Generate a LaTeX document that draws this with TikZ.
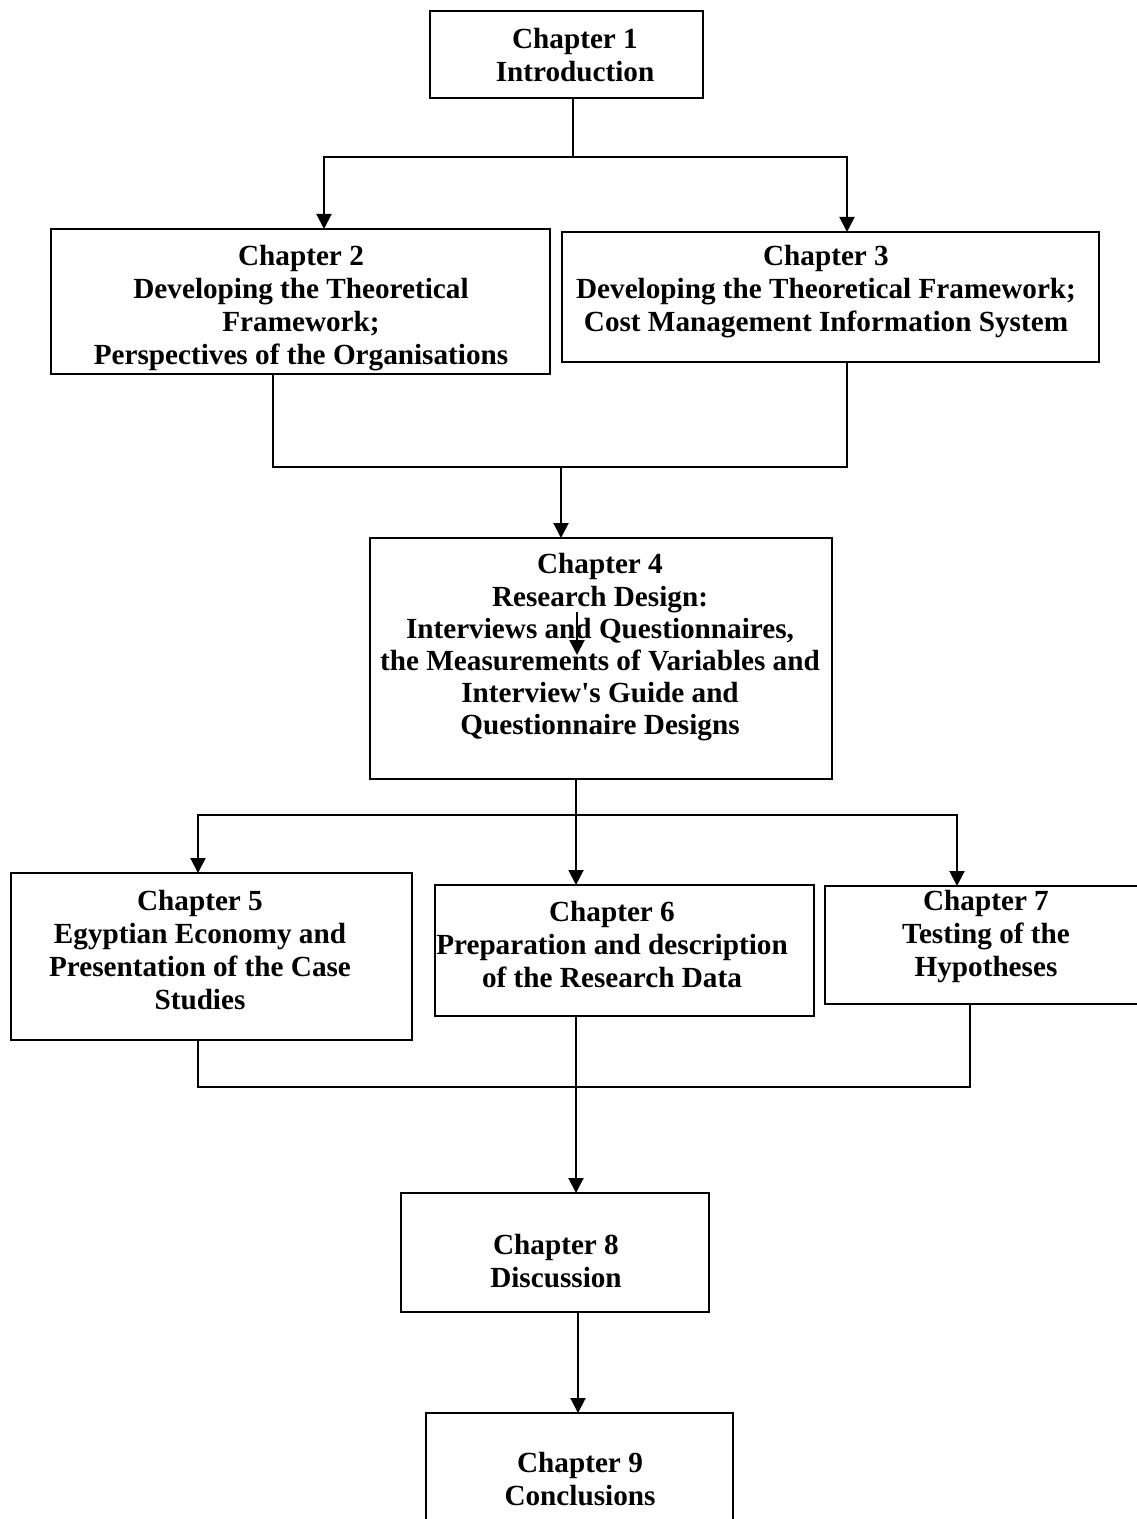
\documentclass[tikz,border=0pt]{standalone}
\usepackage{fontspec}
\setmainfont{Liberation Serif}
\usetikzlibrary{arrows.meta}
\begin{document}
\begin{tikzpicture}[x=0.5pt,y=-0.5pt,
  box/.style={draw, line width=1.1pt, inner sep=0pt, outer sep=0pt},
  txt/.style={align=center, font=\fontsize{14.6}{16.5}\selectfont\bfseries, inner sep=0pt},
  ln/.style={line width=1pt},
  arr/.style={line width=1pt, -{Triangle[length=7.5pt,width=7.5pt]}}]
\useasboundingbox (0,0) rectangle (1136,1519);
% boxes
\node[box, minimum width=136.5pt, minimum height=43.5pt] (c1) at (566.5,54.5) {};
\node[box, minimum width=249.5pt, minimum height=72.5pt] (c2) at (300.5,301.5) {};
\node[box, minimum width=268.5pt, minimum height=65pt] (c3) at (830.5,297) {};
\node[box, minimum width=231pt, minimum height=120.5pt] (c4) at (601,658.5) {};
\node[box, minimum width=200.5pt, minimum height=83.5pt] (c5) at (211.5,956.5) {};
\node[box, minimum width=189.5pt, minimum height=65.5pt] (c6) at (624.5,950.5) {};
\node[box, minimum width=162.5pt, minimum height=59pt] (c7) at (987.5,945) {};
\node[box, minimum width=154pt, minimum height=59.5pt] (c8) at (555,1252.5) {};
\node[box, minimum width=153.5pt, minimum height=63.5pt] (c9) at (579.5,1476.5) {};
% texts
\node[txt] (t1) at (575,55) {Chapter 1\\Introduction};
\node[txt] (t2) at (301,308) {Chapter 2\\Developing the Theoretical\\Framework;\\Perspectives of the Organisations};
\node[txt] (t3) at (826,292) {Chapter 3\\Developing the Theoretical Framework;\\Cost Management Information System};
\node[txt, font=\fontsize{14.6}{16.1}\selectfont\bfseries] (t4) at (600,647.5) {Chapter 4\\Research Design:\\Interviews and Questionnaires,\\the Measurements of Variables and\\Interview\textquotesingle s Guide and\\Questionnaire Designs};
\node[txt] (t5) at (200,950) {Chapter 5\\Egyptian Economy and\\Presentation of the Case\\Studies};
\node[txt] (t6) at (612,945) {Chapter 6\\Preparation and description\\of the Research Data};
\node[txt] (t7) at (986,937) {Chapter 7\\Testing of the\\Hypotheses};
\node[txt] (t8) at (556,1261) {Chapter 8\\Discussion};
\node[txt] (t9) at (580,1479) {Chapter 9\\Conclusions};
% junctions
\coordinate (j1) at (573,157);
\coordinate (j2) at (561,467);
\coordinate (j3) at (576,815);
\coordinate (j4) at (576,1087);
\coordinate (j5) at (578,1360);
\coordinate (s1) at (577,612);
\coordinate (s2) at (577,655);
% connectors
\draw[ln] (c1.south -| j1) -- (j1);
\draw[arr] (j1) -| ([xshift=11.75pt]c2.north);
\draw[arr] (j1) -| ([xshift=8.25pt]c3.north);
\draw[ln] ([xshift=-13.75pt]c2.south) |- (j2) -| ([xshift=8.25pt]c3.south);
\draw[arr] (j2) -- (c4.north -| j2);
\draw[arr] (s1) -- (s2);
\draw[ln] (c4.south -| j3) -- (j3);
\draw[arr] (j3) -| ([xshift=-6.75pt]c5.north);
\draw[arr] (j3) -- (c6.north -| j3);
\draw[arr] (j3) -| ([xshift=-15.25pt]c7.north);
\draw[ln] ([xshift=-6.75pt]c5.south) |- (j4) -| ([xshift=-8.75pt]c7.south);
\draw[arr] (c6.south -| j4) -- (c8.north -| j4);
\draw[arr] (c8.south -| j5) -- (c9.north -| j5);
\end{tikzpicture}
\end{document}
